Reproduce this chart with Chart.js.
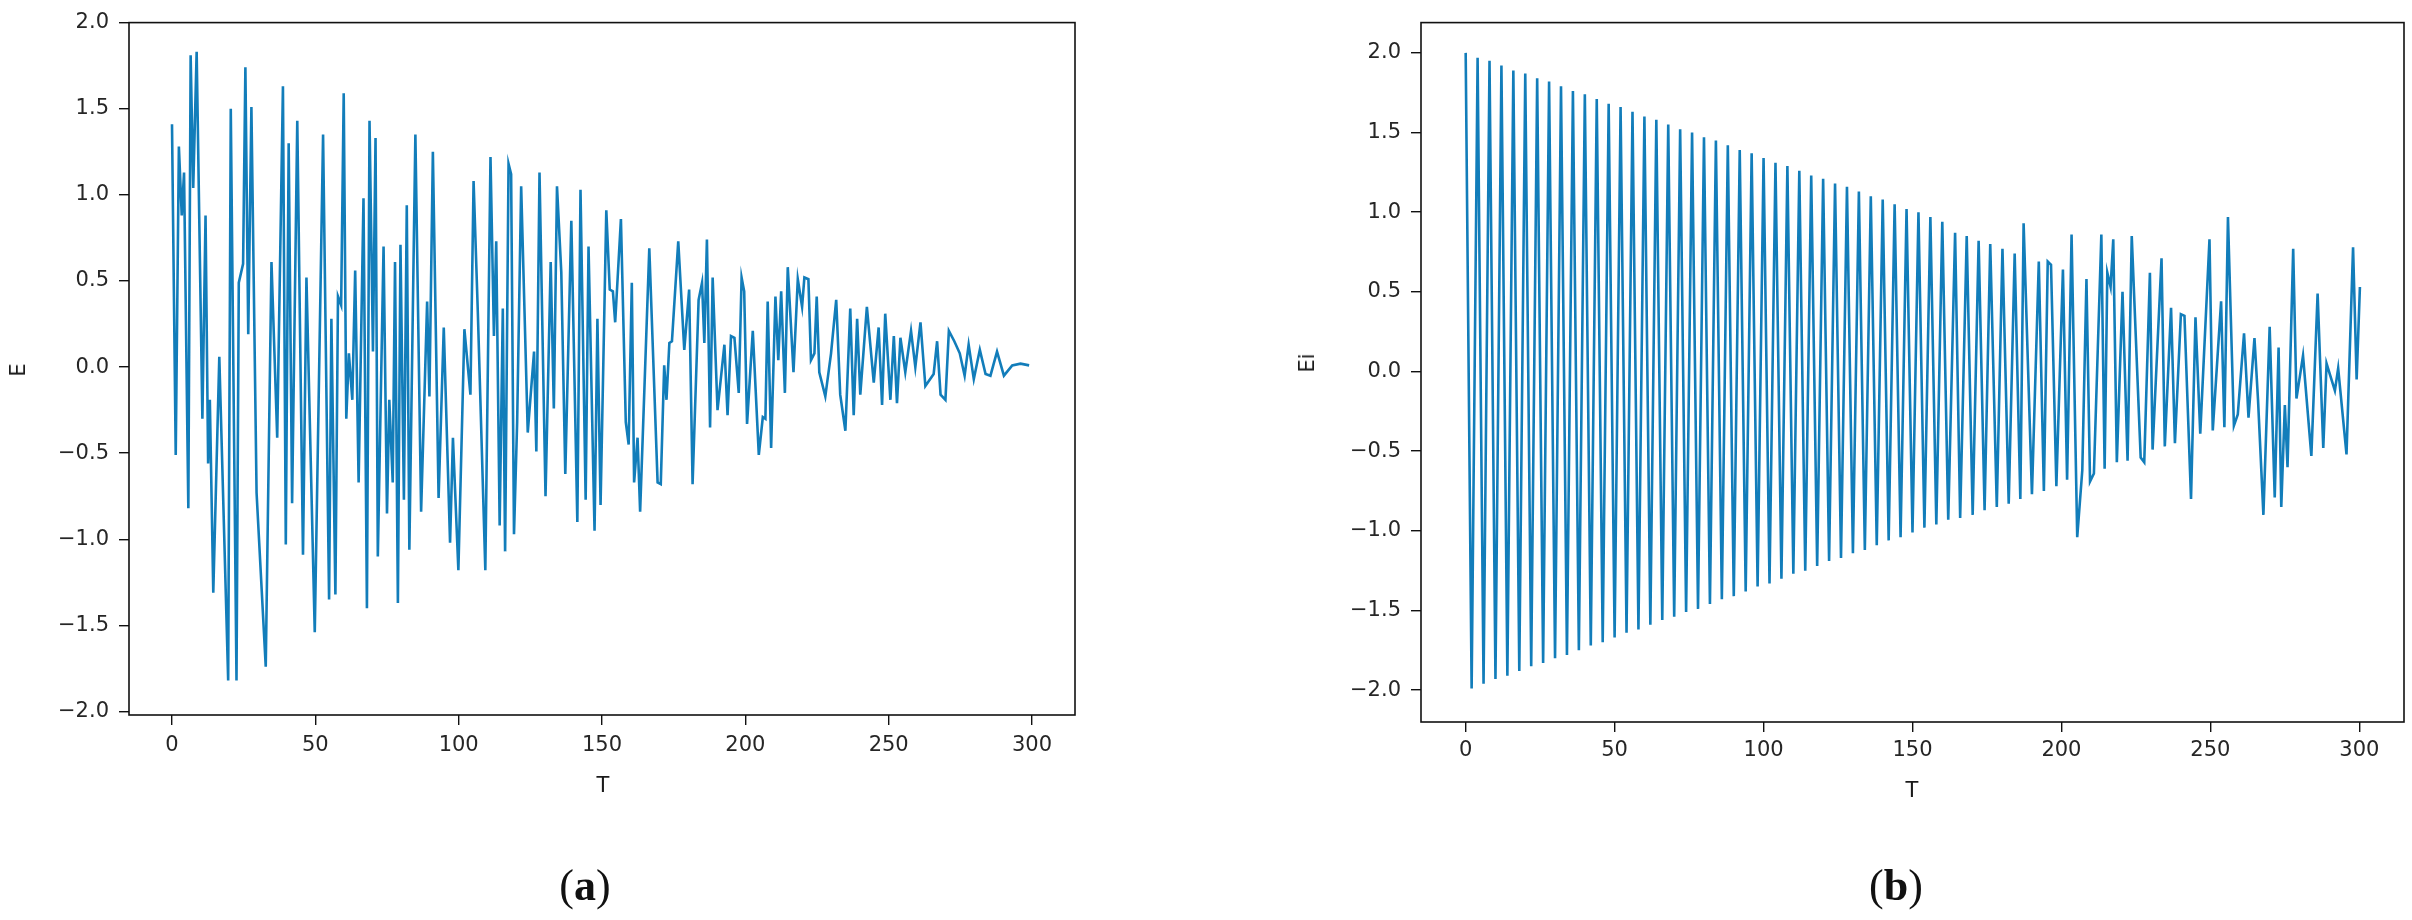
<!DOCTYPE html>
<html><head><meta charset="utf-8">
<script src="https://cdn.jsdelivr.net/npm/chart.js@4/dist/chart.umd.min.js"></script>
<style>
body{margin:0;background:#fff;width:2412px;height:920px;position:relative;overflow:hidden;font-family:"DejaVu Sans",sans-serif;}
.c{position:absolute;}
.lab{position:absolute;font-family:"DejaVu Sans";font-size:21px;color:#1a1a1a;transform:translate(-50%,-50%);white-space:nowrap;}
.rot{transform:translate(-50%,-50%) rotate(-90deg);}
.cap{position:absolute;font-family:"Liberation Serif",serif;font-size:44px;color:#111;transform:translate(-50%,-50%);}
</style></head><body>
<div class="c" style="left:0;top:0;width:1100px;height:800px"><canvas id="ca"></canvas></div>
<div class="c" style="left:1200px;top:0;width:1212px;height:800px"><canvas id="cb"></canvas></div>
<div class="lab rot" style="left:18px;top:370px">E</div>
<div class="lab" style="left:603px;top:785px">T</div>
<div class="lab rot" style="left:1307px;top:363px">Ei</div>
<div class="lab" style="left:1912px;top:790px">T</div>
<div class="cap" style="left:585px;top:885px">(<b>a</b>)</div>
<div class="cap" style="left:1896px;top:885px">(<b>b</b>)</div>
<script>
const xTickVals=[0,50,100,150,200,250,300];
const yTickVals=[-2.0,-1.5,-1.0,-0.5,0.0,0.5,1.0,1.5,2.0];

const leftT=[0,1.3,2.4,3.4,4.2,5.7,6.5,7.4,8.6,10.6,11.7,12.6,13.2,14.4,16.5,19.6,20.5,22.5,23.3,24.8,25.6,26.6,27.7,29.5,32.7,34.7,36.7,38.7,39.7,40.7,41.9,43.7,45.7,46.9,49.8,52.7,54.8,55.6,57.0,57.9,59.0,59.9,60.8,61.7,62.9,63.9,65.1,66.8,68.0,68.9,70.1,71.0,71.8,73.8,75.0,75.8,77.0,77.8,78.8,79.7,80.9,81.9,82.8,84.9,86.9,89.0,89.8,91.0,93.0,94.8,97.0,98.0,99.9,102.0,104.1,105.2,106.7,109.3,111.1,112.3,113.1,114.3,115.4,116.2,117.4,118.3,119.3,120.4,121.8,124.1,126.3,127.1,128.2,130.3,132.1,133.2,134.3,135.8,137.2,139.3,141.4,142.5,144.3,145.3,147.4,148.4,149.5,151.5,152.7,153.8,154.6,156.6,158.3,159.3,160.4,161.2,162.4,163.3,166.5,169.4,170.5,171.7,172.5,173.5,174.4,176.6,178.7,180.4,181.6,183.7,184.9,185.7,186.6,187.7,188.6,190.3,192.7,193.8,195.0,196.2,197.7,198.7,199.6,200.6,202.6,204.7,206.1,207.0,207.8,209.0,210.5,211.5,212.5,213.8,214.8,216.8,218.3,219.8,220.6,222.0,222.9,224.1,224.9,225.8,227.9,229.9,231.7,233.1,234.9,236.6,237.8,239.0,240.1,242.4,244.8,246.5,247.7,248.8,250.6,251.8,252.9,254.1,255.8,257.8,259.3,261.1,262.8,265.7,266.9,268.1,269.8,271.0,272.9,274.8,276.5,277.9,279.7,281.8,283.8,285.5,287.8,290.2,293.1,296.0,299.0];
const leftE=[1.41,-0.51,1.28,0.88,1.13,-0.82,1.81,1.04,1.83,-0.30,0.88,-0.56,-0.19,-1.31,0.06,-1.82,1.50,-1.82,0.49,0.60,1.74,0.19,1.51,-0.73,-1.74,0.61,-0.41,1.63,-1.03,1.30,-0.79,1.43,-1.09,0.52,-1.54,1.35,-1.35,0.28,-1.32,0.41,0.36,1.59,-0.30,0.08,-0.19,0.56,-0.67,0.98,-1.40,1.43,0.09,1.33,-1.10,0.70,-0.85,-0.19,-0.67,0.61,-1.37,0.71,-0.77,0.94,-1.06,1.35,-0.84,0.38,-0.17,1.25,-0.76,0.23,-1.02,-0.41,-1.18,0.22,-0.16,1.08,0.31,-1.18,1.22,0.18,0.73,-0.92,0.34,-1.07,1.18,1.12,-0.97,-0.32,1.05,-0.38,0.09,-0.49,1.13,-0.75,0.61,-0.24,1.05,0.55,-0.62,0.85,-0.90,1.03,-0.77,0.70,-0.95,0.28,-0.80,0.91,0.45,0.44,0.26,0.86,-0.32,-0.45,0.49,-0.67,-0.41,-0.84,0.69,-0.67,-0.68,0.01,-0.19,0.14,0.15,0.73,0.10,0.45,-0.68,0.39,0.49,0.14,0.74,-0.35,0.52,-0.25,0.13,-0.28,0.18,0.17,-0.15,0.52,0.44,-0.33,0.21,-0.51,-0.29,-0.30,0.38,-0.47,0.41,0.04,0.44,-0.15,0.58,-0.03,0.51,0.35,0.52,0.51,0.04,0.08,0.41,-0.03,-0.17,0.08,0.39,-0.16,-0.37,0.34,-0.28,0.28,-0.16,0.35,-0.09,0.23,-0.22,0.31,-0.19,0.18,-0.21,0.17,-0.03,0.21,0.00,0.26,-0.11,-0.04,0.15,-0.16,-0.19,0.21,0.15,0.08,-0.05,0.13,-0.07,0.10,-0.04,-0.05,0.09,-0.05,0.01,0.02,0.01];

const rightT=[0,2,4,6,8,10,12,14,16,18,20,22,24,26,28,30,32,34,36,38,40,42,44,46,48,50,52,54,56,58,60,62,64,66,68,70,72,74,76,78,80,82,84,86,88,90,92,94,96,98,100,102,104,106,108,110,112,114,116,118,120,122,124,126,128,130,132,134,136,138,140,142,144,146,148,150,152,154,156,158,160,162,164.3,166.0,168.2,170.2,172.2,174.2,176.1,178.3,180.2,182.3,184.3,186.2,187.3,190.1,192.4,194.1,195.4,196.5,198.3,200.5,201.9,203.4,205.3,207.0,208.4,209.6,210.9,213.4,214.5,215.4,216.5,217.4,218.6,220.5,222.2,223.6,226.6,227.8,229.7,230.6,233.6,234.7,236.8,238.1,240.1,241.3,243.5,245.0,246.6,249.7,250.8,253.6,254.7,255.9,257.9,259.2,261.3,262.8,264.8,266.0,267.8,269.9,271.6,272.9,273.8,275.0,275.9,277.8,278.9,281.1,283.9,286.0,287.9,289.0,291.8,292.9,295.7,297.9,299.1,300.2];
const rightE=[2.00,-1.99,1.97,-1.96,1.95,-1.93,1.92,-1.91,1.89,-1.88,1.87,-1.85,1.84,-1.83,1.82,-1.80,1.79,-1.78,1.76,-1.75,1.74,-1.72,1.71,-1.70,1.68,-1.67,1.66,-1.64,1.63,-1.62,1.60,-1.59,1.58,-1.56,1.55,-1.54,1.52,-1.51,1.50,-1.49,1.47,-1.46,1.45,-1.43,1.42,-1.41,1.39,-1.38,1.37,-1.35,1.34,-1.33,1.31,-1.30,1.29,-1.27,1.26,-1.25,1.23,-1.22,1.21,-1.19,1.18,-1.17,1.16,-1.14,1.13,-1.12,1.10,-1.09,1.08,-1.06,1.05,-1.04,1.02,-1.01,1.00,-0.98,0.97,-0.96,0.94,-0.93,0.87,-0.92,0.85,-0.90,0.82,-0.87,0.80,-0.85,0.77,-0.83,0.74,-0.80,0.93,-0.77,0.69,-0.75,0.69,0.67,-0.72,0.64,-0.68,0.86,-1.04,-0.62,0.58,-0.69,-0.64,0.86,-0.61,0.62,0.53,0.83,-0.57,0.50,-0.56,0.85,-0.54,-0.57,0.62,-0.49,0.71,-0.47,0.40,-0.45,0.36,0.35,-0.80,0.34,-0.39,0.83,-0.37,0.44,-0.35,0.97,-0.34,-0.27,0.24,-0.29,0.21,-0.18,-0.90,0.28,-0.79,0.15,-0.85,-0.21,-0.60,0.77,-0.17,0.10,-0.53,0.49,-0.48,0.05,-0.12,0.02,-0.52,0.78,-0.05,0.53];

const lineColor='#127dba';
const fmt=v=>{const s=Math.abs(v).toFixed(1);return v<-1e-9?'\u2212'+s:s;};
const boxPlugin={id:'box',afterDraw(c){const a=c.chartArea,x=c.ctx;x.save();x.strokeStyle='#111';x.lineWidth=1.6;x.strokeRect(a.left,a.top,a.right-a.left,a.bottom-a.top);x.restore();}};

function make(id,T,E,ymin,ymax,yW,xH,pad,xPad){
  const pts=T.map((t,i)=>({x:t,y:E[i]}));
  new Chart(document.getElementById(id),{
    type:'scatter',
    data:{datasets:[{data:pts,showLine:true,borderColor:lineColor,borderWidth:2.6,pointRadius:0,tension:0,fill:false}]},
    options:{responsive:true,maintainAspectRatio:false,animation:false,
      layout:{padding:pad},
      plugins:{legend:{display:false},tooltip:{enabled:false}},
      scales:{
        x:{type:'linear',min:-15,max:315,
          afterBuildTicks:s=>{s.ticks=xTickVals.map(v=>({value:v}));},
          afterFit:s=>{s.height=xH;},
          grid:{drawOnChartArea:false,drawTicks:true,tickLength:10,color:'#111',lineWidth:1.4},
          border:{display:false},
          ticks:{color:'#262626',font:{family:'DejaVu Sans',size:21},padding:xPad,maxRotation:0,callback:v=>String(v)}},
        y:{type:'linear',min:ymin,max:ymax,
          afterBuildTicks:s=>{s.ticks=yTickVals.map(v=>({value:v}));},
          afterFit:s=>{s.width=yW;},
          grid:{drawOnChartArea:false,drawTicks:true,tickLength:10,color:'#111',lineWidth:1.4},
          border:{display:false},
          ticks:{color:'#262626',font:{family:'DejaVu Sans',size:21},padding:10,callback:v=>fmt(v)}}
      }},
    plugins:[boxPlugin]});
}
make('ca',leftT,leftE,-2.02,2.0,129,85,{top:20,right:25,left:0,bottom:0},8);
make('cb',rightT,rightE,-2.2,2.19,221,78,{top:10,right:8,left:0,bottom:0},6);
</script></body></html>
